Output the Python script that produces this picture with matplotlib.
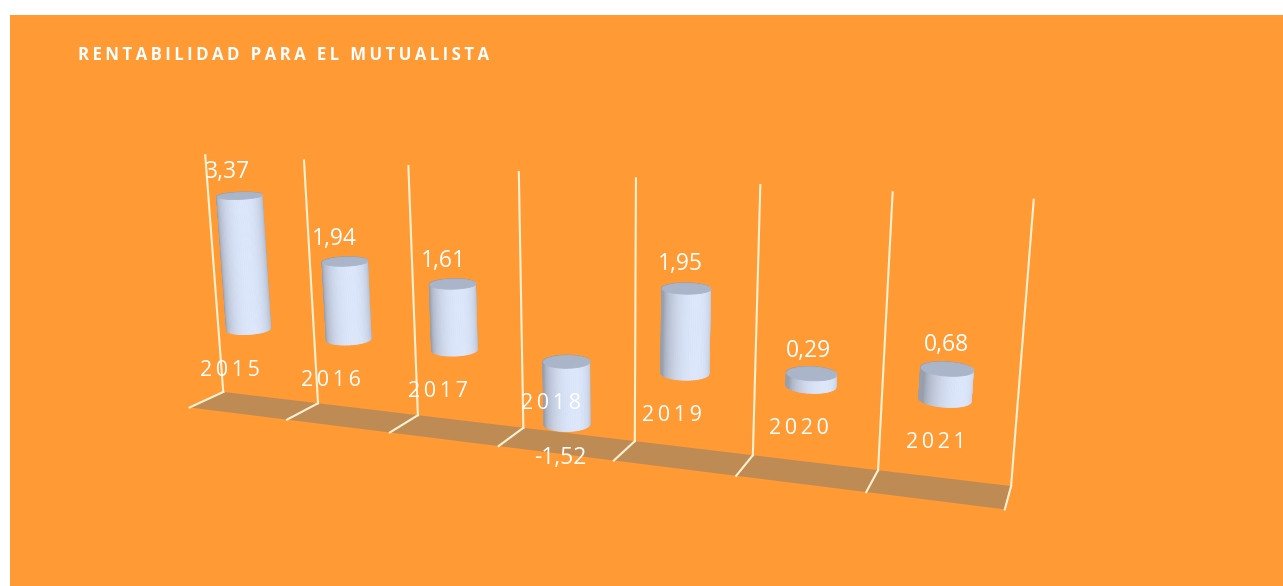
import numpy as np
import matplotlib
matplotlib.use('Agg')
import matplotlib.pyplot as plt
from matplotlib.patches import Rectangle
from matplotlib.transforms import offset_copy
from mpl_toolkits.mplot3d.art3d import Poly3DCollection
from mpl_toolkits.mplot3d import proj3d

# ---------------- data ----------------
years = ['2015', '2016', '2017', '2018', '2019', '2020', '2021']
values = [3.37, 1.94, 1.61, -1.52, 1.95, 0.29, 0.68]
value_labels = ['3,37', '1,94', '1,61', '-1,52', '1,95', '0,29', '0,68']
z_min, z_max = -2.0, 4.0
title = 'RENTABILIDAD PARA EL MUTUALISTA'

# ---------------- style ----------------
BG = '#FF9A35'
FLOOR = '#BF8B55'
GRID = '#FFF1D2'
SIDE = np.array([0.85, 0.89, 0.97])
CAP = np.array([0.67, 0.71, 0.79])
WALL_TOP = 4.2

W, H = 1283, 586
fig = plt.figure(figsize=(W / 100, H / 100), dpi=100)
fig.patch.set_facecolor('white')
fig.patches.append(Rectangle((10 / W, 0), 1, 1 - 15 / H, transform=fig.transFigure,
                             facecolor=BG, edgecolor='none', zorder=-10))

# large square 3D panel (so nothing is clipped), centred on the view point
side_px = 1400
cx, cy = 594, 218
ax = fig.add_axes([cx / W - side_px / W / 2, cy / H - side_px / H / 2,
                   side_px / W, side_px / H], projection='3d')
ax.set_facecolor('none')
ax.patch.set_alpha(0)
ax.set_axis_off()
ax.set_xticks([])
ax.set_yticks([])
ax.set_zticks([])
for a in (ax.xaxis, ax.yaxis, ax.zaxis):
    a.label.set_visible(False)
    a.offsetText.set_visible(False)
ax.computed_zorder = False

n = len(values)
# view target (box centre) placed where the reference camera looks
xlim = (-0.5, n - 0.5 + 0.8)
zlim = (z_min - 1.2, z_max)
ax.set_xlim(*xlim)
ax.set_ylim(0, 1)
ax.set_zlim(*zlim)
bx, by, bz = (xlim[1] - xlim[0]), 0.5, (zlim[1] - zlim[0]) * 0.35
norm = np.sqrt(bx ** 2 + by ** 2 + bz ** 2)
ax.set_box_aspect((bx, by, bz), zoom=0.98 * 0.1699 * norm / 1.9057)
ax.set_proj_type('persp', focal_length=0.187)
ax.view_init(elev=15.3, azim=-69.8)

# floor
floor = Poly3DCollection([[(-0.5, 0, z_min), (n - 0.5, 0, z_min),
                           (n - 0.5, 1, z_min), (-0.5, 1, z_min)]],
                         facecolor=FLOOR, edgecolor='none', zorder=1)
ax.add_collection3d(floor)

# gridlines
for k in range(n + 1):
    xk = -0.5 + k
    ax.plot([xk, xk], [1, 1], [z_min, WALL_TOP], color=GRID, lw=1.5, zorder=2)
    ax.plot([xk, xk], [0, 1], [z_min, z_min], color=GRID, lw=1.5, zorder=2)

# cylinders
r = 0.188
ry = r * (bx / (xlim[1] - xlim[0])) / by
nseg = 72
theta = np.linspace(0, 2 * np.pi, nseg + 1)
light = np.array([0.9, -1.0])
light /= np.linalg.norm(light)
for i, v in enumerate(values):
    t0, t1 = theta[:-1], theta[1:]
    tm = 0.5 * (t0 + t1)
    d = np.clip(np.cos(tm) * light[0] + np.sin(tm) * light[1], 0, 1)
    shade = 0.70 + 0.32 * d ** 0.8
    cols = np.clip(SIDE[None, :] * shade[:, None], 0, 1)
    verts = []
    for a0, a1 in zip(t0, t1):
        p0 = (i + r * np.cos(a0), 0.5 + ry * np.sin(a0))
        p1 = (i + r * np.cos(a1), 0.5 + ry * np.sin(a1))
        verts.append([(p0[0], p0[1], 0.0), (p1[0], p1[1], 0.0),
                      (p1[0], p1[1], v), (p0[0], p0[1], v)])
    sidec = Poly3DCollection(verts, facecolors=cols, edgecolors=cols,
                             linewidths=0.6, zorder=5 + i)
    ax.add_collection3d(sidec)
    top = max(v, 0.0)
    cap = [(i + r * np.cos(a), 0.5 + ry * np.sin(a), top) for a in theta[:-1]]
    capc = Poly3DCollection([cap], facecolors=[CAP], edgecolors=[CAP],
                            linewidths=0.6, zorder=20 + i)
    ax.add_collection3d(capc)

# labels: project 3D anchor points to the 2D plane of the axes
M = ax.get_proj()
txt_font = ['Open Sans', 'DejaVu Sans']
year_tr = offset_copy(ax.transData, fig=fig, x=-6, y=-36, units='dots')
for i, v in enumerate(values):
    zlab = v + 0.62 if v >= 0 else v - 0.7
    px, py, _ = proj3d.proj_transform(i, 0.2, zlab, M)
    ax.text2D(px, py, value_labels[i], transform=ax.transData, color='white',
              fontsize=16.5, family=txt_font, ha='center', va='center', zorder=40)
    # category label: fixed screen offset below the front of the bar base
    qx, qy, _ = proj3d.proj_transform(i, 0.5 - ry, 0.0, M)
    ax.text2D(qx, qy, '\u2009'.join(years[i]), transform=year_tr, color='white',
              fontsize=15.5, family=txt_font, ha='center', va='center', zorder=40)

fig.text(78 / W, 1 - 55 / H, '\u2009'.join(title), color='white', fontsize=12.2,
         fontweight='bold', family=txt_font, ha='left', va='center')

fig.savefig('out.png', dpi=100, facecolor=fig.get_facecolor())
